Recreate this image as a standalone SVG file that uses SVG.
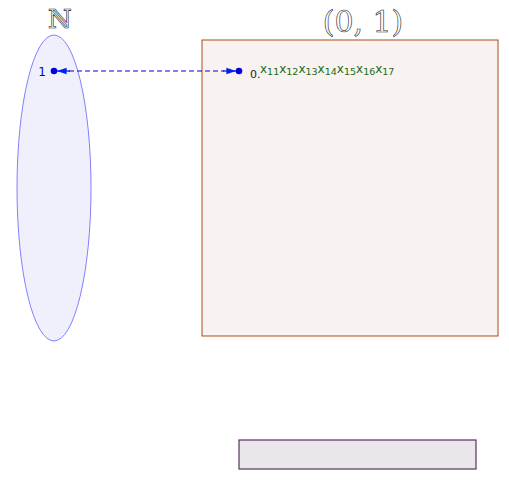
<svg xmlns="http://www.w3.org/2000/svg" width="509" height="488" viewBox="0 0 509 488">
<style>
.title{font-family:"DejaVu Serif","Liberation Serif",serif;fill:#fff;stroke:#222;stroke-width:0.6}
.dig{font-family:"DejaVu Sans",sans-serif;fill:#1a6a1a;font-size:12px}
.sub{font-size:9.5px}
</style>
<defs>
<marker id="ah" viewBox="0 0 12 10" refX="12" refY="5" markerWidth="12" markerHeight="8" markerUnits="userSpaceOnUse" orient="auto">
<path d="M0,1 L12,5 L0,9 z" fill="#0022ee"/>
</marker>
</defs>
<rect width="509" height="488" fill="#fff"/>
<g id="setN">
<ellipse cx="54" cy="188" rx="37" ry="153" fill="#f0f0fc" stroke="#8080ff" stroke-width="1"/>
<text class="title" x="60" y="28" font-size="26" text-anchor="middle">ℕ</text>
<circle cx="54" cy="71" r="3.3" fill="#0000dd"/>
<text x="42" y="76" font-family="DejaVu Sans,sans-serif" font-size="12" fill="#0000dd" text-anchor="middle">1</text>
</g>
<g id="interval">
<rect x="202" y="40" width="296" height="296" fill="#f8f3f0" stroke="#b04818" stroke-width="1"/>
<text class="title" x="363" y="32" font-size="30" text-anchor="middle">(0, 1)</text>
<circle cx="239" cy="71" r="3.3" fill="#0000dd"/>
<text x="250" y="78" font-family="DejaVu Sans,sans-serif" font-size="11" fill="#222">0.</text>
<text class="dig" x="260" y="73">x<tspan class="sub" dy="2">11</tspan><tspan dy="-2">x</tspan><tspan class="sub" dy="2">12</tspan><tspan dy="-2">x</tspan><tspan class="sub" dy="2">13</tspan><tspan dy="-2">x</tspan><tspan class="sub" dy="2">14</tspan><tspan dy="-2">x</tspan><tspan class="sub" dy="2">15</tspan><tspan dy="-2">x</tspan><tspan class="sub" dy="2">16</tspan><tspan dy="-2">x</tspan><tspan class="sub" dy="2">17</tspan></text>
</g>
<g id="box">
<rect x="239" y="440" width="237" height="29" fill="#ebe5ec" stroke="#5a3060" stroke-width="1.2"/>
</g>
<g id="connectors">
<line x1="69" y1="71" x2="224" y2="71" stroke="#0000dd" stroke-width="1.2" stroke-dasharray="5,3"/>
<line x1="70" y1="71" x2="57" y2="71" stroke="#0000dd" stroke-width="1.2" marker-end="url(#ah)"/>
<line x1="223" y1="71" x2="236" y2="71" stroke="#0000dd" stroke-width="1.2" marker-end="url(#ah)"/>
</g>
</svg>
